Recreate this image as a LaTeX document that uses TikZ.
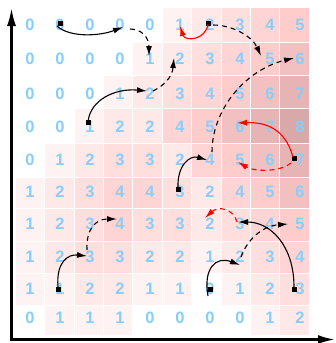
\documentclass[tikz,border=0pt]{standalone}
\usepackage{fontspec}
\setmainfont{Liberation Sans}
\usetikzlibrary{arrows.meta}
\definecolor{numblue}{RGB}{135,206,250}
\definecolor{v0}{RGB}{255,255,255}
\definecolor{v1}{RGB}{255,242,242}
\definecolor{v2}{RGB}{255,232,232}
\definecolor{v3}{RGB}{255,222,222}
\definecolor{v4}{RGB}{255,212,212}
\definecolor{v5}{RGB}{255,204,204}
\definecolor{v6}{RGB}{242,192,192}
\definecolor{v7}{RGB}{230,180,180}
\definecolor{v8}{RGB}{217,168,168}
\begin{document}
\begin{tikzpicture}[x=1pt,y=-1pt,
  num/.style={text=numblue, font=\fontsize{16.5}{18}\selectfont\bfseries, inner sep=0pt},
  axisline/.style={line width=2.3pt, line join=miter, {Latex[length=18pt,width=9pt]}-{Latex[length=17pt,width=9pt]}},
  conn/.style={line width=1.1pt, -{Latex[length=10pt,width=6pt]}},
  dconn/.style={conn, dash pattern=on 5pt off 4pt},
  sqmark/.style={rectangle, fill=black, minimum size=5pt, inner sep=0pt}]
\useasboundingbox (0,0) rectangle (336,343);
% cells
\foreach \row/\ya/\yb/\vals in {
  0/7/42/{0,0,0,0,0,1,2,3,4,5},
  1/42/75/{0,0,0,0,1,2,3,4,5,6},
  2/75/108/{0,0,0,1,2,3,4,5,6,7},
  3/108/143/{0,0,1,2,2,4,5,6,7,8},
  4/143/177/{0,1,2,3,3,2,4,5,6,7},
  5/177/208/{1,2,3,4,4,3,2,4,5,6},
  6/208/241/{1,2,3,4,3,3,2,3,4,5},
  7/241/273/{1,2,3,3,2,2,1,2,3,4},
  8/273/305/{1,1,2,2,1,1,0,1,2,3},
  9/305/335/{0,1,1,1,0,0,0,0,1,2}}{
  \foreach \v [count=\col from 0] in \vals {
    \filldraw[fill=v\v, draw=white, line width=0.5pt] ({15+29.4*\col},\ya) rectangle ({15+29.4*(\col+1)},\yb);
  }
}
% numbers
\foreach \row/\yc/\vals in {
  0/25/{0,0,0,0,0,1,2,3,4,5},
  1/59/{0,0,0,0,1,2,3,4,5,6},
  2/93.5/{0,0,0,1,2,3,4,5,6,7},
  3/127/{0,0,1,2,2,4,5,6,7,8},
  4/160/{0,1,2,3,3,2,4,5,6,7},
  5/191.5/{1,2,3,4,4,3,2,4,5,6},
  6/223.5/{1,2,3,4,3,3,2,3,4,5},
  7/257/{1,2,3,3,2,2,1,2,3,4},
  8/289/{1,1,2,2,1,1,0,1,2,3},
  9/318/{0,1,1,1,0,0,0,0,1,2}}{
  \foreach \v [count=\col from 0] in \vals {
    \node[num] (c\row\col) at ({30+30*\col},\yc) {\v};
  }
}
% axes
\coordinate (ytip) at (11.5,8);
\coordinate (xtip) at (335,339.5);
\draw[axisline] (ytip) |- (xtip);
% start markers
\node[sqmark] (s1) at ([shift={(0,-2)}]c01.center) {};
\node[sqmark] (s2) at ([shift={(-2,-5)}]c32.center) {};
\node[sqmark] (s3) at ([shift={(-2,-2)}]c06.center) {};
\node[sqmark] (s4) at ([shift={(-2,-2.5)}]c55.center) {};
\node[sqmark] (s5) at ([shift={(-6,-2)}]c49.center) {};
\node[sqmark] (s6) at ([shift={(-6,0)}]c89.center) {};
\node[sqmark] (s7) at (c86.center) {};
\node[sqmark] (s8) at ([shift={(-2,0)}]c81.center) {};
% connectors
\draw[conn] ([shift={(-3,1)}]c01.center) .. controls +(13,12) and +(-23,9) .. ([shift={(3,2)}]c03.center);
\draw[dconn] ([shift={(10,4)}]c03.center) .. controls +(12,0) and +(0,-18) .. ([shift={(-1,-3)}]c14.center);
\draw[conn] ([shift={(-2,-5)}]c32.center) .. controls +(2,-22) and +(-32,-3) .. ([shift={(-3,-2.5)}]c24.center);
\draw[dconn] ([shift={(3,-2.5)}]c24.center) .. controls +(10,-5) and +(-2,20) .. ([shift={(-6,-1)}]c15.center);
\draw[conn, red] ([shift={(-2,-1)}]c06.center) .. controls +(-2,16) and +(5,16) .. ([shift={(0,1)}]c05.center);
\draw[dconn] ([shift={(3,0)}]c06.center) .. controls +(19,0) and +(-9,-20) .. ([shift={(-9,-3)}]c18.center);
\draw[dconn] ([shift={(2,-8)}]c46.center) .. controls +(0,-42) and +(-49,12) .. ([shift={(-6,-1)}]c19.center);
\draw[conn] ([shift={(-2,-3.5)}]c55.center) .. controls +(-1,-23) and +(-17,-5) .. ([shift={(-3,0)}]c46.center);
\draw[conn, red] ([shift={(-7,-3)}]c49.center) .. controls +(-8,-29) and +(28,-1) .. ([shift={(-3,-4)}]c37.center);
\draw[dconn, red] ([shift={(-9,3)}]c49.center) .. controls +(-11,9) and +(17,10) .. ([shift={(-2,2)}]c47.center);
\draw[dconn, red] ([shift={(-3,-1.5)}]c67.center) .. controls +(-4,-14) and +(13,-12) .. ([shift={(-5,-5.5)}]c66.center);
\draw[conn] ([shift={(-6,-2)}]c89.center) .. controls +(0,-42) and +(32,0) .. ([shift={(-2,-1.5)}]c67.center);
\draw[dconn] ([shift={(1,0)}]c77.center) .. controls +(6,-17) and +(-26,2) .. ([shift={(-12,0.5)}]c69.center);
\draw[conn] ([shift={(-2,7)}]c86.center) .. controls +(-5,-28) and +(-24,-9) .. ([shift={(0,8)}]c77.center);
\draw[conn] ([shift={(-2,-2)}]c81.center) .. controls +(-2,-25) and +(-19,-2) .. ([shift={(-3,-1)}]c72.center);
\draw[dconn] ([shift={(-3,-7)}]c72.center) .. controls +(-1,-20) and +(-22,0) .. ([shift={(-3,-4.5)}]c63.center);
\end{tikzpicture}
\end{document}
